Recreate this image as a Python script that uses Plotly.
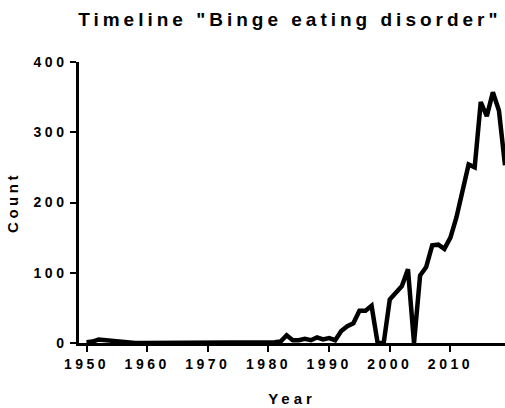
import plotly.graph_objects as go

years = list(range(1950, 2020))
counts = [
    1, 2, 5, 4, 3, 2, 1, 0, 0, 0,          # 1950-1959
    0, 1, 1, 1, 1, 1, 1, 1, 1, 1,          # 1960-1969
    1, 1, 1, 1, 1, 1, 1, 1, 1, 1,          # 1970-1979
    1, 1, 2, 11, 4, 4, 6, 4, 8, 5,         # 1980-1989
    7, 4, 17, 24, 28, 46, 46, 53, 0, 0,    # 1990-1999
    62, 72, 81, 105, 0, 96, 108, 139, 140, 134,  # 2000-2009
    150, 179, 215, 254, 250, 343, 323, 357, 331, 253,  # 2010-2019
]
x_ticks = [1950, 1960, 1970, 1980, 1990, 2000, 2010]
y_ticks = [0, 100, 200, 300, 400]

title_text = 'Timeline "Binge eating disorder"'
x_title = "Year"
y_title = "Count"

FONT = "Liberation Sans, Arial, sans-serif"


def spaced(s, px, word=0):
    return f'<span style="letter-spacing:{px}px;word-spacing:{word}px">{s}</span>'


fig = go.Figure()
fig.add_trace(go.Scatter(
    x=years, y=counts, mode="lines",
    line=dict(color="black", width=4.5),
    hoverinfo="skip", showlegend=False,
))

fig.update_layout(
    width=505, height=408,
    margin=dict(l=79, r=0, t=62, b=65, autoexpand=False),
    paper_bgcolor="white", plot_bgcolor="white",
    font=dict(family=FONT, color="black", weight=700),
    title=dict(
        text=spaced(title_text, 4, 0),
        x=0.574, xref="container", xanchor="center",
        y=0.953, yref="container", yanchor="middle",
        font=dict(size=19, family=FONT, color="black", weight=700),
        automargin=False,
    ),
)

fig.update_xaxes(
    range=[1948.76, 2019],
    tickmode="array", tickvals=x_ticks,
    ticktext=[spaced(str(v), 3.5) for v in x_ticks],
    ticks="outside", ticklen=6, tickwidth=2, tickcolor="black",
    showline=True, linecolor="black", linewidth=2.5,
    showgrid=False, zeroline=False, automargin=False,
    tickfont=dict(size=14, family=FONT, color="black", weight=700),
    title=dict(text=spaced(x_title, 4),
               font=dict(size=15, family=FONT, color="black", weight=700), standoff=23),
)
fig.update_yaxes(
    range=[0, 400],
    tickmode="array", tickvals=y_ticks,
    ticktext=[spaced(str(v), 3.5) for v in y_ticks],
    ticks="outside", ticklen=6, tickwidth=2, tickcolor="black",
    showline=True, linecolor="black", linewidth=2.5,
    showgrid=False, zeroline=False, automargin=False,
    tickfont=dict(size=14, family=FONT, color="black", weight=700),
    title=dict(text=spaced(y_title, 3.5),
               font=dict(size=15, family=FONT, color="black", weight=700), standoff=12),
)

fig.write_html("out.html", config={"displayModeBar": False})

with open("out.html", "r", encoding="utf-8") as f:
    html = f.read()
html = html.replace("<head>", "<head><style>html,body{margin:0;padding:0;}</style>", 1)
with open("out.html", "w", encoding="utf-8") as f:
    f.write(html)
